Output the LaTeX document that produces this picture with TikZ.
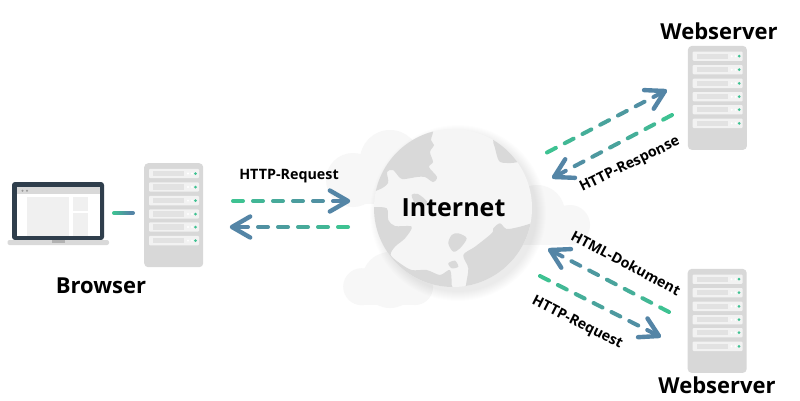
\documentclass[tikz,border=0pt]{standalone}
\usepackage{fontspec}
\setmainfont{Open Sans}
\usetikzlibrary{calc, positioning}
\definecolor{flowgreen}{RGB}{62, 194, 146}
\definecolor{flowblue}{RGB}{84, 133, 166}
\definecolor{cloudcol}{RGB}{247, 247, 247}
\definecolor{landcol}{RGB}{245, 245, 245}
\definecolor{seacol}{RGB}{217, 217, 217}
\definecolor{rackcol}{RGB}{216, 216, 216}
\definecolor{slotcol}{RGB}{242, 242, 242}
\definecolor{slotbar}{RGB}{226, 226, 226}
\definecolor{screencol}{RGB}{47, 62, 76}

% dashed flow line, green at the start and blue at the tip
\newcommand{\flowline}[3]{
    \foreach \i in {0,...,#3}{
        \pgfmathsetmacro{\mixval}{100*\i/#3}
        \ifnum\i<#3
            \draw[flow, color=flowblue!\mixval!flowgreen] ($(#1)!\i*20pt!(#2)$) -- ($(#1)!\i*20pt+10pt!(#2)$);
        \else
            \draw[flow, color=flowblue] ($(#1)!\i*20pt!(#2)$) -- (#2);
            \draw[flow, color=flowblue, line width=4.4pt] ($(#2)!21pt!30:(#1)$) -- (#2) -- ($(#2)!21pt!-30:(#1)$);
        \fi
    }
}

\begin{document}
\begin{tikzpicture}[
        x=1pt, y=-1pt,
        flow/.style={line width=4pt, line cap=round, line join=round},
        title/.style={font=\bfseries\fontsize{22}{24}\selectfont, inner sep=0pt},
        label/.style={font=\bfseries\fontsize{14.3}{16}\selectfont, inner sep=0pt},
        cloud/.style={fill=cloudcol},
        land/.style={fill=seacol},
        server/.pic={
            \node[fill=rackcol, rounded corners=4pt, minimum width=59pt, minimum height=104pt, inner sep=0pt, anchor=north west] (-body) at (0,0) {};
            \foreach \y in {10.5,24,37.6,51,64,77.6}{
                \fill[slotcol, rounded corners=1pt] (5,\y-4.7) rectangle (55,\y+4.7);
                \fill[slotbar] (9,\y-2.7) rectangle (40,\y+2.7);
                \fill[white] (44,\y) circle (1.1) (48,\y) circle (1.1);
                \fill[flowgreen] (51.5,\y) circle (1.5);
            }
        }
    ]
    \useasboundingbox (0,0) rectangle (800,400);
    \fill[white] (0,0) rectangle (800,400);

    % Clouds
    \foreach \x/\y/\r in {390/160/30, 353/180/27, 537/213/28, 570/225/20, 361.7/286.7/18.5, 390/280/28, 415/287/18}{
        \fill[cloud] (\x,\y) circle (\r);
    }
    \fill[cloud] (353,180) rectangle (450,204.3);
    \fill[cloud] (500,225) rectangle (570,244.5);
    \fill[cloud] (361.7,280) rectangle (415,305);

    % Globe
    \foreach \r in {79,80,...,88}{
        \fill[black, opacity=0.008] (458,213) circle (\r);
    }
    \node[circle, fill=landcol, minimum size=158pt, inner sep=0pt] (globe) at (453,208) {};
    \begin{scope}
        \clip (453,208) circle (79);
        \fill[land] plot[smooth cycle, tension=0.5] coordinates {(433,128) (431,140) (434,145) (430,152) (433,162) (429,167) (437,177) (433,182) (425,177) (417,177) (405,179) (400,178) (393,170) (387,172) (388,183) (378,190) (360,192) (360,125) (420,118)};
        \fill[land] plot[smooth cycle, tension=0.5] coordinates {(493,138) (495,148) (499,161) (507,163) (518,162) (540,155) (530,125) (500,122)};
        \fill[land] plot[smooth cycle, tension=0.5] coordinates {(372,207) (386.7,208.3) (388.3,220) (395,226) (411.7,226.7) (405,238.3) (395,246.7) (390.7,255) (400,263.3) (411.7,270) (426.7,270) (440,275) (450,270) (451.7,285) (451,297) (360,297) (360,207)};
        \fill[land] plot[smooth cycle, tension=0.5] coordinates {(540,222) (531.7,223.3) (520,226.7) (506.7,229) (500,223.3) (493.3,228.3) (491.7,233.3) (475,246.7) (463.3,255) (468.3,268.3) (466,285) (466,297) (540,297)};
        \fill[land] plot[smooth cycle, tension=0.5] coordinates {(451.7,235) (458.3,233.3) (466.7,238.3) (460,248.3) (453.3,251.7) (448.3,243.3)};
        \fill[land] plot[smooth cycle, tension=0.5] coordinates {(448.3,263.3) (455,260.7) (458.3,266.7) (451.7,268.3)};
        \fill[land] plot[smooth cycle, tension=0.5] coordinates {(411.7,195) (418,194) (427,201.7) (423,207) (415,203)};
    \end{scope}
    \node[font=\bfseries\fontsize{25}{27}\selectfont, inner sep=0pt] (internet) at (453.5,208) {Internet};

    % Laptop
    \node[fill=screencol, rounded corners=3pt, minimum width=92pt, minimum height=58pt, inner sep=0pt] (laptop) at (58,211) {};
    \fill[white] (17,187) rectangle (100,236);
    \fill[seacol] (17,187) rectangle (100,194);
    \fill[gray!80] (22.5,190.7) circle (1.1) (27,190.7) circle (1.1);
    \fill[black!6] (27,197) rectangle (69,236);
    \fill[black!6] (73,197) rectangle (88,211);
    \fill[black!6] (73,213) rectangle (88,236);
    \fill[seacol, rounded corners=2pt] (7.5,240) rectangle (109,245);
    \fill[black!30] (52,240) rectangle (65,243);

    % Servers
    \pic (browserserver) at (144,163) {server};
    \pic (topserver) at (687.7,45.7) {server};
    \pic (lowserver) at (687.5,268.7) {server};

    % Titles
    \node[title] (browser) at (101,286) {Browser};
    \node[title] (webtop) at (719,31) {Webserver};
    \node[title] (weblow) at (717,385) {Webserver};

    % Labels
    \node[label] (reqleft) at (289,176) {HTTP-Request};
    \node[label, rotate=26] (resp) at (630,165) {HTTP-Response};
    \node[label, rotate=-28] (dok) at (626,263) {HTML-Dokument};
    \node[label, rotate=-27] (reqlow) at (577,323) {HTTP-Request};

    % Flow ends
    \coordinate (linkA) at (114,213);
    \coordinate (linkB) at (133,213);
    \coordinate (leftreqA) at (233,201);
    \coordinate (leftreqB) at (348,201);
    \coordinate (leftresA) at (348,227);
    \coordinate (leftresB) at (232,227);
    \coordinate (topreqA) at (547,152.5);
    \coordinate (topreqB) at (665,91);
    \coordinate (topresA) at (672,115);
    \coordinate (topresB) at (554,177);
    \coordinate (lowresA) at (669,312);
    \coordinate (lowresB) at (550,250);
    \coordinate (lowreqA) at (540,276);
    \coordinate (lowreqB) at (659,336);

    % Flows
    \foreach \i in {0,...,7}{
        \pgfmathsetmacro{\mixval}{100*\i/7}
        \draw[flow, color=flowblue!\mixval!flowgreen] ($(linkA)!\i/8!(linkB)$) -- ($(linkA)!\i/8+0.125!(linkB)$);
    }
    \flowline{leftreqA}{leftreqB}{5}
    \flowline{leftresA}{leftresB}{5}
    \flowline{topreqA}{topreqB}{6}
    \flowline{topresA}{topresB}{6}
    \flowline{lowresA}{lowresB}{6}
    \flowline{lowreqA}{lowreqB}{6}
\end{tikzpicture}
\end{document}
